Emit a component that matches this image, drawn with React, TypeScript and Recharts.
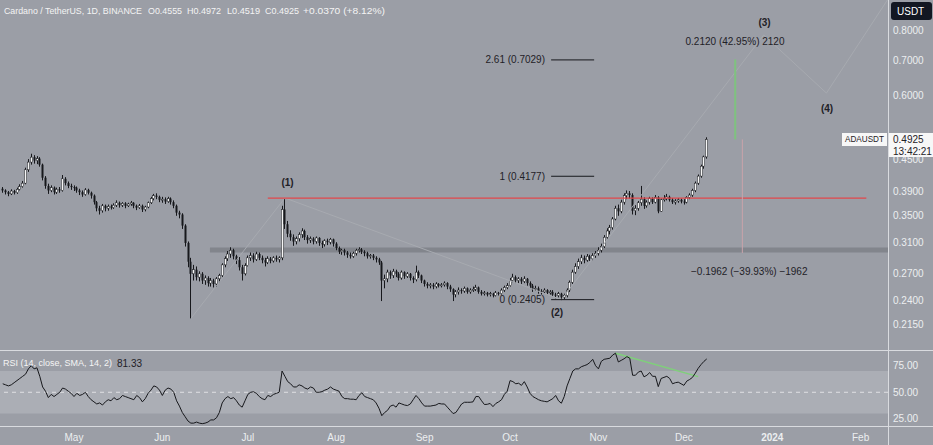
import React from 'react'
import { ComposedChart, Bar, Line, XAxis, YAxis, ReferenceLine, ReferenceArea } from 'recharts'

// days are counted from 1 May 2023; first candle is 6 Apr
const FIRST_DAY = -25
const FIRST_OPEN = 0.395

// daily candles as [high, low, close]; open is the previous close
const apr: number[][] = [
  [0.398, 0.388, 0.392], [0.394, 0.385, 0.389], [0.391, 0.382, 0.386], [0.394, 0.384, 0.391], [0.393, 0.385, 0.388],
  [0.397, 0.386, 0.394], [0.403, 0.392, 0.399], [0.409, 0.397, 0.405], [0.434, 0.403, 0.43], [0.451, 0.426, 0.445],
  [0.462, 0.44, 0.455], [0.459, 0.442, 0.448], [0.457, 0.441, 0.452], [0.455, 0.436, 0.44], [0.442, 0.41, 0.415],
  [0.418, 0.395, 0.4], [0.404, 0.386, 0.392], [0.401, 0.389, 0.397], [0.399, 0.385, 0.389], [0.397, 0.386, 0.394],
  [0.398, 0.388, 0.392], [0.42, 0.39, 0.413], [0.416, 0.401, 0.405], [0.408, 0.396, 0.4], [0.404, 0.393, 0.398],
]
const may: number[][] = [
  [0.401, 0.391, 0.397], [0.399, 0.388, 0.392], [0.395, 0.384, 0.389], [0.392, 0.381, 0.385], [0.396, 0.383, 0.393],
  [0.395, 0.385, 0.388], [0.39, 0.378, 0.383], [0.385, 0.368, 0.372], [0.374, 0.357, 0.362], [0.366, 0.352, 0.358],
  [0.369, 0.355, 0.366], [0.368, 0.357, 0.362], [0.368, 0.358, 0.365], [0.368, 0.36, 0.363], [0.37, 0.361, 0.367],
  [0.375, 0.364, 0.371], [0.373, 0.363, 0.367], [0.372, 0.364, 0.37], [0.372, 0.362, 0.366], [0.371, 0.364, 0.369],
  [0.374, 0.366, 0.371], [0.372, 0.362, 0.366], [0.368, 0.359, 0.363], [0.369, 0.361, 0.366], [0.368, 0.356, 0.36],
  [0.366, 0.357, 0.364], [0.373, 0.362, 0.371], [0.381, 0.369, 0.378], [0.386, 0.375, 0.383], [0.387, 0.377, 0.381],
  [0.383, 0.372, 0.376],
]
const jun: number[][] = [
  [0.381, 0.371, 0.377], [0.38, 0.369, 0.373], [0.381, 0.371, 0.378], [0.38, 0.368, 0.372], [0.375, 0.362, 0.366],
  [0.368, 0.35, 0.355], [0.358, 0.346, 0.352], [0.354, 0.33, 0.335], [0.337, 0.305, 0.31], [0.312, 0.278, 0.285],
  [0.29, 0.221, 0.27], [0.281, 0.262, 0.275], [0.279, 0.262, 0.266], [0.273, 0.261, 0.27], [0.272, 0.258, 0.262],
  [0.268, 0.257, 0.265], [0.267, 0.255, 0.259], [0.265, 0.255, 0.262], [0.264, 0.254, 0.258], [0.266, 0.255, 0.264],
  [0.27, 0.26, 0.268], [0.283, 0.266, 0.281], [0.292, 0.278, 0.289], [0.299, 0.286, 0.295], [0.304, 0.29, 0.3],
  [0.302, 0.288, 0.292], [0.294, 0.282, 0.287], [0.291, 0.274, 0.278], [0.281, 0.262, 0.27], [0.283, 0.268, 0.28],
]
const jul: number[][] = [
  [0.293, 0.279, 0.29], [0.297, 0.286, 0.293], [0.296, 0.284, 0.288], [0.298, 0.286, 0.295], [0.297, 0.287, 0.29],
  [0.293, 0.283, 0.287], [0.29, 0.279, 0.284], [0.292, 0.282, 0.289], [0.291, 0.283, 0.286], [0.292, 0.284, 0.29],
  [0.293, 0.285, 0.288], [0.292, 0.284, 0.29], [0.366, 0.287, 0.36], [0.379, 0.33, 0.337], [0.342, 0.318, 0.323],
  [0.328, 0.313, 0.318], [0.322, 0.306, 0.312], [0.319, 0.308, 0.316], [0.325, 0.312, 0.322], [0.331, 0.317, 0.327],
  [0.329, 0.314, 0.318], [0.321, 0.309, 0.314], [0.319, 0.31, 0.316], [0.318, 0.308, 0.312], [0.319, 0.309, 0.317],
  [0.318, 0.306, 0.31], [0.313, 0.303, 0.308], [0.315, 0.305, 0.313], [0.316, 0.307, 0.311], [0.317, 0.308, 0.315],
  [0.316, 0.305, 0.309],
]
const aug: number[][] = [
  [0.311, 0.3, 0.303], [0.305, 0.295, 0.298], [0.302, 0.294, 0.3], [0.302, 0.293, 0.297], [0.299, 0.29, 0.294],
  [0.297, 0.289, 0.292], [0.298, 0.29, 0.296], [0.302, 0.293, 0.3], [0.304, 0.297, 0.301], [0.303, 0.295, 0.298],
  [0.3, 0.292, 0.296], [0.298, 0.289, 0.292], [0.295, 0.289, 0.293], [0.295, 0.287, 0.29], [0.292, 0.284, 0.288],
  [0.29, 0.281, 0.284], [0.286, 0.239, 0.262], [0.269, 0.253, 0.264], [0.275, 0.26, 0.272], [0.274, 0.264, 0.268],
  [0.276, 0.265, 0.273], [0.275, 0.266, 0.27], [0.272, 0.262, 0.265], [0.274, 0.263, 0.272], [0.273, 0.264, 0.267],
  [0.272, 0.265, 0.27], [0.271, 0.262, 0.265], [0.267, 0.259, 0.263], [0.28, 0.261, 0.272], [0.274, 0.265, 0.268],
  [0.269, 0.259, 0.262],
]
const sep: number[][] = [
  [0.263, 0.255, 0.258], [0.26, 0.253, 0.256], [0.259, 0.253, 0.257], [0.259, 0.252, 0.255], [0.26, 0.253, 0.258],
  [0.259, 0.254, 0.256], [0.259, 0.254, 0.257], [0.261, 0.255, 0.259], [0.26, 0.252, 0.255], [0.257, 0.249, 0.252],
  [0.253, 0.239, 0.246], [0.251, 0.243, 0.249], [0.254, 0.246, 0.251], [0.253, 0.247, 0.25], [0.255, 0.248, 0.253],
  [0.254, 0.247, 0.249], [0.253, 0.247, 0.251], [0.255, 0.249, 0.252], [0.257, 0.25, 0.254], [0.255, 0.247, 0.249],
  [0.251, 0.245, 0.247], [0.25, 0.245, 0.248], [0.249, 0.244, 0.246], [0.249, 0.244, 0.247], [0.248, 0.243, 0.245],
  [0.25, 0.244, 0.248], [0.249, 0.245, 0.247], [0.253, 0.246, 0.251], [0.256, 0.249, 0.254], [0.259, 0.252, 0.256],
]
const oct: number[][] = [
  [0.265, 0.255, 0.262], [0.27, 0.26, 0.266], [0.268, 0.259, 0.262], [0.266, 0.259, 0.264], [0.266, 0.258, 0.261],
  [0.267, 0.259, 0.264], [0.265, 0.256, 0.259], [0.261, 0.253, 0.256], [0.258, 0.249, 0.252], [0.256, 0.25, 0.253],
  [0.255, 0.247, 0.25], [0.252, 0.246, 0.249], [0.253, 0.247, 0.251], [0.252, 0.246, 0.248], [0.251, 0.246, 0.249],
  [0.251, 0.244, 0.246], [0.248, 0.242, 0.245], [0.249, 0.243, 0.247], [0.248, 0.24, 0.243], [0.247, 0.241, 0.245],
  [0.253, 0.243, 0.251], [0.262, 0.249, 0.26], [0.275, 0.258, 0.272], [0.283, 0.27, 0.279], [0.289, 0.276, 0.285],
  [0.294, 0.282, 0.29], [0.293, 0.283, 0.287], [0.295, 0.285, 0.292], [0.294, 0.286, 0.289], [0.296, 0.287, 0.293],
  [0.299, 0.29, 0.296],
]
const nov: number[][] = [
  [0.304, 0.293, 0.3], [0.309, 0.297, 0.305], [0.321, 0.303, 0.318], [0.331, 0.315, 0.327], [0.336, 0.322, 0.332],
  [0.348, 0.329, 0.345], [0.366, 0.343, 0.362], [0.368, 0.35, 0.357], [0.376, 0.354, 0.372], [0.387, 0.368, 0.383],
  [0.392, 0.377, 0.387], [0.391, 0.378, 0.384], [0.387, 0.352, 0.358], [0.367, 0.351, 0.362], [0.374, 0.358, 0.371],
  [0.4, 0.366, 0.377], [0.38, 0.361, 0.366], [0.375, 0.363, 0.372], [0.381, 0.368, 0.378], [0.38, 0.369, 0.372],
  [0.384, 0.37, 0.38], [0.382, 0.354, 0.357], [0.378, 0.356, 0.376], [0.384, 0.373, 0.378], [0.386, 0.375, 0.381],
  [0.383, 0.373, 0.376], [0.379, 0.369, 0.372], [0.377, 0.368, 0.374], [0.379, 0.371, 0.376], [0.378, 0.37, 0.373],
]
const dec: number[][] = [
  [0.377, 0.368, 0.372], [0.382, 0.37, 0.38], [0.387, 0.377, 0.384], [0.395, 0.381, 0.392], [0.408, 0.389, 0.405],
  [0.421, 0.402, 0.418], [0.44, 0.415, 0.437], [0.458, 0.432, 0.4555], [0.4972, 0.4519, 0.4925],
]

// RSI(14) per day, same days as the candles
const rsiApr = [58, 57, 56, 57, 59, 61, 63, 65, 67, 72, 75, 72, 73, 65, 55, 51, 45, 48, 46, 48, 50, 54, 53, 51, 49]
const rsiMay = [46, 49, 47, 48, 50, 46, 43, 41, 39, 40, 38, 41, 43, 42, 45, 43, 44, 47, 46, 45, 44, 43, 47, 45, 41, 44, 49, 52, 56, 55, 52]
const rsiJun = [47, 52, 54, 53, 50, 42, 37, 31, 27, 23, 21, 21, 22, 21, 20.5, 21, 22, 24, 24, 26, 31, 40, 44, 46, 44, 45, 42, 38, 36, 42]
const rsiJul = [48, 50, 50.5, 49, 46, 44, 43, 47, 46, 48, 49, 50, 70, 65, 60, 58, 55, 55, 57, 56, 54, 53, 55, 54, 50, 50, 50.6, 52, 53, 55, 53]
const rsiAug = [52, 51, 46, 44, 44, 43.5, 43.5, 43, 47, 49.5, 46, 45, 44, 43, 40, 35, 28, 31, 33, 37, 38, 36, 40, 39, 38, 37.5, 39, 43, 47, 44, 40]
const rsiSep = [37, 37, 37, 37.5, 38, 39.5, 39, 39, 36, 33, 30, 31, 35, 39, 40.6, 40.6, 40.6, 41, 46, 46, 42, 38.5, 38.7, 39.5, 36.5, 39.5, 41, 43, 48, 51]
const rsiOct = [61, 60, 58, 58.5, 56.5, 60, 55, 49, 46, 44.5, 43, 42, 41.5, 41, 42.5, 44, 47, 42, 39.7, 46, 56, 63, 70, 72, 72, 74, 75, 76, 78, 81, 75]
const rsiNov = [72, 79, 81, 81.5, 82, 85, 86.7, 78.5, 80, 81.5, 83.5, 82, 66, 66, 69, 70, 64.5, 66, 68.5, 65, 65, 55.3, 63, 64, 65, 63, 58, 59, 59.5, 58]
const rsiDec = [56.5, 60.5, 62, 64, 68, 72.5, 76, 79, 81.33]

const priceTicks = [0.215, 0.24, 0.27, 0.31, 0.35, 0.39, 0.45, 0.6, 0.7, 0.8]
const rsiTicks = [25, 50, 75]
const monthTicks = [0, 31, 61, 92, 123, 153, 184, 214, 245, 276]
const monthLabels = ['May', 'Jun', 'Jul', 'Aug', 'Sep', 'Oct', 'Nov', 'Dec', '2024', 'Feb']

// drawn levels
const resistance = 0.3788
const supportLow = 0.297
const supportHigh = 0.3037
const fibLevels = [0.7029, 0.4177, 0.2405]
const waves = [
  { day: 41, price: 0.221 },
  { day: 74, price: 0.379 },
  { day: 171, price: 0.2405 },
  { day: 242, price: 0.786 },
  { day: 264, price: 0.606 },
  { day: 286, price: 0.93 },
]
const lastClose = 0.4925
const upMove = 0.212
const downMove = 0.1962

const X_DOMAIN = [-25.96, 285.6]
const BG = '#9b9ea6'
const INK = '#17181c'
const LIGHT = '#eceef0'
const FONT = '"Liberation Sans", Arial, sans-serif'

const candles = [...apr, ...may, ...jun, ...jul, ...aug, ...sep, ...oct, ...nov, ...dec]
const rsi = [...rsiApr, ...rsiMay, ...rsiJun, ...rsiJul, ...rsiAug, ...rsiSep, ...rsiOct, ...rsiNov, ...rsiDec]

let prevClose = FIRST_OPEN
const data = candles.map(([high, low, close], i) => {
  const open = prevClose
  prevClose = close
  return { day: FIRST_DAY + i, open, high, low, close, range: [low, high], rsi: rsi[i] }
})

function Candle(props: any) {
  const { x, y, width, height, payload } = props
  if (!payload || height == null || isNaN(y)) return null
  const { open, close, high, low } = payload
  const cx = Math.round(x + width / 2) + 0.5
  const span = Math.log(high) - Math.log(low)
  const yOf = (v: number) => y + (span > 0 ? (height * (Math.log(high) - Math.log(v))) / span : 0)
  const up = close >= open
  const top = yOf(Math.max(open, close))
  const bh = Math.max(1, yOf(Math.min(open, close)) - top)
  return (
    <g>
      <line x1={cx} x2={cx} y1={y} y2={y + height} stroke={INK} strokeWidth={1} />
      <rect
        x={cx - 1}
        y={top}
        width={2}
        height={bh}
        fill={up ? '#f6f6f6' : INK}
        stroke={up ? INK : 'none'}
        strokeWidth={0.5}
      />
    </g>
  )
}

function PriceTick(props: any) {
  const { y, payload } = props
  return (
    <text x={893} y={y} dominantBaseline="central" fontSize={10} fill={LIGHT} fontFamily={FONT}>
      {payload.value.toFixed(4)}
    </text>
  )
}

function RsiTick(props: any) {
  const { y, payload } = props
  return (
    <text x={893} y={y} dominantBaseline="central" fontSize={10} fill={LIGHT} fontFamily={FONT}>
      {payload.value.toFixed(2)}
    </text>
  )
}

function MonthTick(props: any) {
  const { x, payload } = props
  const i = monthTicks.indexOf(payload.value)
  const label = monthLabels[i]
  return (
    <text
      x={x}
      y={86}
      textAnchor="middle"
      dominantBaseline="central"
      fontSize={10}
      fontWeight={label === '2024' ? 700 : 400}
      fill={LIGHT}
      fontFamily={FONT}
    >
      {label}
    </text>
  )
}

function Overlay() {
  const dark = '#1f2126'
  const t = { dominantBaseline: 'central' as const, fontFamily: FONT, fontSize: 10 }
  const s = { ...t, fontSize: 8.8 }
  return (
    <svg width={933} height={445} style={{ position: 'absolute', left: 0, top: 0, pointerEvents: 'none' }}>
      <line x1={0} x2={933} y1={350.5} y2={350.5} stroke="#d9dbdf" />
      <line x1={0} x2={933} y1={426.5} y2={426.5} stroke="#d9dbdf" />
      <line x1={888.5} x2={888.5} y1={0} y2={445} stroke="#d9dbdf" />

      <text {...s} x={4} y={11} fill="#f4f4f4" textLength={138} lengthAdjust="spacingAndGlyphs">Cardano / TetherUS, 1D, BINANCE</text>
      <text {...s} x={148} y={11} fill="#f4f4f4" textLength={34} lengthAdjust="spacingAndGlyphs">O0.4555</text>
      <text {...s} x={187} y={11} fill="#f4f4f4" textLength={34} lengthAdjust="spacingAndGlyphs">H0.4972</text>
      <text {...s} x={227} y={11} fill="#f4f4f4" textLength={33} lengthAdjust="spacingAndGlyphs">L0.4519</text>
      <text {...s} x={265} y={11} fill="#f4f4f4" textLength={34} lengthAdjust="spacingAndGlyphs">C0.4925</text>
      <text {...s} x={303} y={11} fill="#f4f4f4" textLength={82} lengthAdjust="spacingAndGlyphs">+0.0370 (+8.12%)</text>

      <text {...t} x={545} y={59.5} fill={dark} textAnchor="end">2.61 (0.7029)</text>
      <text {...t} x={545} y={176} fill={dark} textAnchor="end">1 (0.4177)</text>
      <text {...t} x={545} y={299} fill={dark} textAnchor="end">0 (0.2405)</text>

      <text {...t} x={287.5} y={182} fill={dark} textAnchor="middle" fontWeight={700}>(1)</text>
      <text {...t} x={557} y={312} fill={dark} textAnchor="middle" fontWeight={700}>(2)</text>
      <text {...t} x={764.5} y={22.5} fill={dark} textAnchor="middle" fontWeight={700}>(3)</text>
      <text {...t} x={827} y={108} fill={dark} textAnchor="middle" fontWeight={700}>(4)</text>

      <text {...t} x={735} y={41} fill={dark} textAnchor="middle">0.2120 (42.95%) 2120</text>
      <text {...t} x={691} y={271} fill={dark}>−0.1962 (−39.93%) −1962</text>

      <rect x={891} y={2} width={41} height={18} rx={3} fill="#131722" />
      <text {...t} x={897} y={11} fill="#ffffff">USDT</text>

      <rect x={842} y={133} width={45} height={13} fill="#f7f7f7" />
      <text {...t} x={845} y={139.5} fontSize={8.2} fill={dark} textLength={39} lengthAdjust="spacingAndGlyphs">ADAUSDT</text>
      <rect x={889} y={133} width={44} height={24} fill="#f7f7f7" />
      <text {...t} x={893} y={139} fill={dark}>0.4925</text>
      <text {...t} x={893} y={151} fill={dark}>13:42:21</text>

      <text {...s} x={3} y={363} fontSize={8.9} fill="#f4f4f4" textLength={109} lengthAdjust="spacingAndGlyphs">RSI (14, close, SMA, 14, 2)</text>
      <text {...t} x={117} y={363} fill={dark}>81.33</text>
    </svg>
  )
}

export default function App() {
  const waveSegments = waves.slice(1).map((p, i) => [
    { x: waves[i].day, y: waves[i].price },
    { x: p.day, y: p.price },
  ])
  return (
    <div style={{ position: 'absolute', left: 0, top: 0, width: 933, height: 445, background: BG, overflow: 'hidden' }}>
      <ComposedChart width={933} height={350} data={data} margin={{ top: 0, right: 0, bottom: 0, left: 0 }}>
        <XAxis dataKey="day" type="number" domain={X_DOMAIN} hide allowDataOverflow />
        <YAxis
          orientation="right"
          scale="log"
          domain={[0.192, 0.919]}
          ticks={priceTicks}
          width={45}
          axisLine={false}
          tickLine={false}
          tick={<PriceTick />}
          allowDataOverflow
        />
        <ReferenceArea x1={47.7} x2={X_DOMAIN[1]} y1={supportLow} y2={supportHigh} fill="#7f8289" fillOpacity={0.9} stroke="none" />
        {waveSegments.map((s, i) => (
          <ReferenceLine key={i} segment={s} stroke="#a7aab0" strokeWidth={1} ifOverflow="hidden" />
        ))}
        <ReferenceLine segment={[{ x: 68, y: resistance }, { x: 278, y: resistance }]} stroke="#e2474b" strokeWidth={1.3} />
        {fibLevels.map((v) => (
          <ReferenceLine key={v} segment={[{ x: 167.4, y: v }, { x: 182.5, y: v }]} stroke={INK} strokeWidth={1} />
        ))}
        <ReferenceLine segment={[{ x: 232, y: lastClose }, { x: 232, y: lastClose + upMove }]} stroke="#7fc27f" strokeWidth={2} />
        <ReferenceLine segment={[{ x: 234.5, y: lastClose }, { x: 234.5, y: lastClose - downMove }]} stroke="#c9a3ab" strokeWidth={1} />
        <Bar dataKey="range" barSize={2} shape={<Candle />} isAnimationActive={false} />
      </ComposedChart>
      <div style={{ position: 'absolute', left: 0, top: 351 }}>
        <ComposedChart width={933} height={94} data={data} margin={{ top: 0, right: 0, bottom: 0, left: 0 }}>
          <XAxis
            dataKey="day"
            type="number"
            domain={X_DOMAIN}
            ticks={monthTicks}
            interval={0}
            height={19}
            axisLine={false}
            tickLine={false}
            tick={<MonthTick />}
            allowDataOverflow
          />
          <YAxis
            orientation="right"
            domain={[18.3, 88.8]}
            ticks={rsiTicks}
            width={45}
            axisLine={false}
            tickLine={false}
            tick={<RsiTick />}
            allowDataOverflow
          />
          <ReferenceArea y1={30} y2={70} fill="#abaeb5" fillOpacity={1} stroke="none" />
          <ReferenceLine y={50} stroke="#dfe0e3" strokeDasharray="4 4" />
          <ReferenceLine segment={[{ x: 190, y: 86.7 }, { x: 219, y: 64.7 }]} stroke="#7fd07a" strokeWidth={1.5} />
          <Line dataKey="rsi" stroke={INK} strokeWidth={1} dot={false} isAnimationActive={false} />
        </ComposedChart>
      </div>
      <Overlay />
    </div>
  )
}
